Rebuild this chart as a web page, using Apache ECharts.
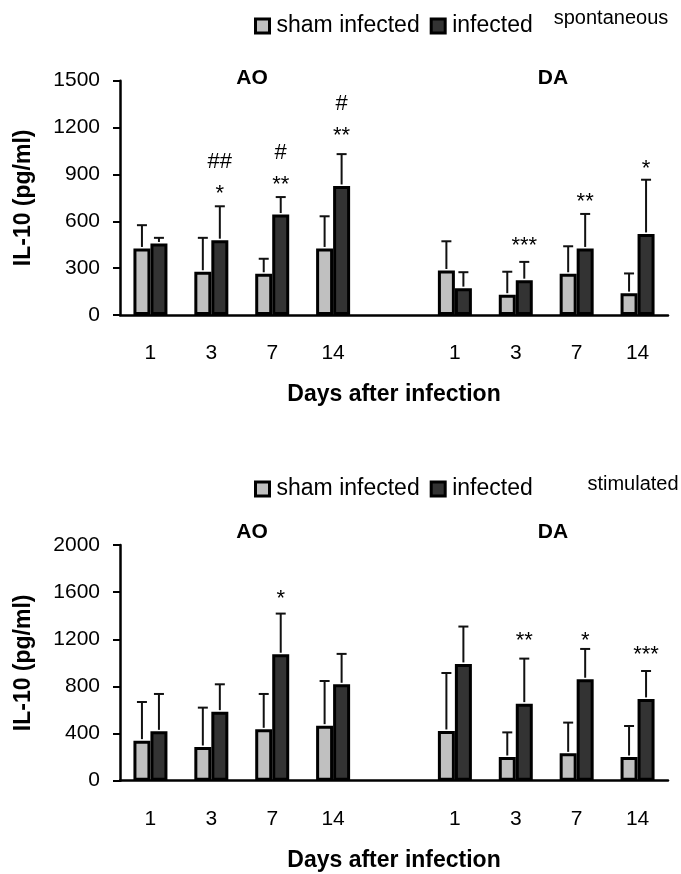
<!DOCTYPE html>
<html><head><meta charset="utf-8">
<script src="https://cdn.jsdelivr.net/npm/echarts@6/dist/echarts.min.js"></script>
<style>html,body{margin:0;padding:0;background:#fff}#c{width:681px;height:874px}</style>
</head><body><div id="c"></div>
<script>
// ---- data ----
const categories = ['1', '3', '7', '14', '', '1', '3', '7', '14'];
const groupLabels = ['AO', 'DA'];
const seriesNames = ['sham infected', 'infected'];
const panelNames = ['spontaneous', 'stimulated'];
const yAxisName = 'IL-10 (pg/ml)';
const xAxisName = 'Days after infection';

// spontaneous panel
const spShamMean = [426, 277, 264, 426, null, 285, 130, 264, 140];
const spShamErr  = [575, 494, 360, 632, null, 472, 277, 440, 266];
const spInfMean  = [458, 479, 643, 826, null, 172, 223, 426, 519];
const spInfErr   = [494, 696, 755, 1030, null, 274, 340, 647, 866];
const spStars     = ['', '*', '**', '**', '', '', '***', '**', '*'];
const spStarLevel = [null, 806, 866, 1179, null, null, 470, 755, 966];
const spHash      = ['', '##', '#', '#', '', '', '', '', ''];
const spHashLevel = [null, 977, 1036, 1349, null, null, null, null, null];
const spTicks = [0, 300, 600, 900, 1200, 1500];

// stimulated panel
const stShamMean = [340, 286, 436, 467, null, 422, 201, 232, 201];
const stShamErr  = [668, 620, 736, 846, null, 914, 410, 493, 464];
const stInfMean  = [419, 586, 1073, 818, null, 991, 654, 861, 694];
const stInfErr   = [736, 818, 1418, 1076, null, 1308, 1036, 1118, 931];
const stStars     = ['', '', '*', '', '', '', '**', '*', '***'];
const stStarLevel = [null, null, 1585, null, null, null, 1223, 1223, 1104];
const stTicks = [0, 400, 800, 1200, 1600, 2000];

// ---- styling ----
const FONT = '"Liberation Sans", Arial, sans-serif';
const SHAM = '#c0c0c0', INF = '#333333';
const BARW = 17;

const chart = echarts.init(document.getElementById('c'), null, {renderer: 'canvas'});

function barSeries(name, data, color, gi) {
  return {
    type: 'bar', name: name, xAxisIndex: gi, yAxisIndex: gi,
    data: data.map(v => v == null ? '-' : v),
    barWidth: BARW, barGap: '0%',
    itemStyle: {color: color, borderColor: '#000', borderWidth: 3},
    emphasis: {disabled: true}, silent: true, z: 2
  };
}
function errSeries(mean, top, side, gi) {
  const rows = [];
  mean.forEach((m, i) => { if (m != null) rows.push([i, m, top[i]]); });
  return {
    type: 'custom', xAxisIndex: gi, yAxisIndex: gi, silent: true, z: 3,
    data: rows,
    renderItem: function (params, api) {
      const i = api.value(0);
      const p0 = api.coord([i, api.value(1)]);
      const p1 = api.coord([i, api.value(2)]);
      const x = p0[0] + side * BARW / 2;
      return {type: 'group', children: [
        {type: 'line', shape: {x1: x, y1: p0[1] - 1.5, x2: x, y2: p1[1]}, style: {stroke: '#111', lineWidth: 2}},
        {type: 'line', shape: {x1: x - 5, y1: p1[1], x2: x + 5, y2: p1[1]}, style: {stroke: '#111', lineWidth: 2}}
      ]};
    }
  };
}
function annotSeries(texts, levels, gi, isStar) {
  const rows = [], labels = [];
  texts.forEach((t, i) => { if (t) { rows.push([i, levels[i]]); labels.push(t); } });
  const fs = 22;
  return {
    type: 'custom', xAxisIndex: gi, yAxisIndex: gi, silent: true, z: 4,
    data: rows,
    renderItem: function (params, api) {
      const p = api.coord([api.value(0), api.value(1)]);
      const t = labels[params.dataIndex];
      return {type: 'text', x: p[0] + BARW / 2, y: p[1] + (isStar ? fs * 0.22 : 0),
        style: {text: t, fill: '#000', font: fs + 'px ' + FONT,
          align: 'center', verticalAlign: 'middle', textAlign: 'center', textVerticalAlign: 'middle'}};
    }
  };
}

const grids = [
  {left: 120, top: 80.7, width: 548, height: 234.3},
  {left: 120, top: 545, width: 548, height: 235.7}
];
const ticks = [spTicks, stTicks];

const xAxes = grids.map((g, gi) => ({
  type: 'category', gridIndex: gi, data: categories, boundaryGap: true,
  axisLine: {show: true, lineStyle: {color: '#000', width: 2.5}},
  axisTick: {show: false},
  axisLabel: {color: '#000', fontSize: 21, fontFamily: FONT, margin: 28, interval: 0},
  splitLine: {show: false},
  name: xAxisName, nameLocation: 'middle', nameGap: 68,
  nameTextStyle: {color: '#000', fontSize: 23, fontWeight: 'bold', fontFamily: FONT}
}));
const yAxes = grids.map((g, gi) => ({
  type: 'value', gridIndex: gi, min: ticks[gi][0], max: ticks[gi][ticks[gi].length - 1],
  interval: ticks[gi][1] - ticks[gi][0],
  axisLine: {show: true, lineStyle: {color: '#000', width: 2.5}},
  axisTick: {show: true, inside: false, length: 7, lineStyle: {color: '#000', width: 2}},
  axisLabel: {color: '#000', fontSize: 21, fontFamily: FONT, margin: 20, formatter: v => String(v)},
  splitLine: {show: false},
  name: yAxisName, nameLocation: 'middle', nameGap: 85,
  nameTextStyle: {color: '#000', fontSize: 23, fontWeight: 'bold', fontFamily: FONT}
}));

const legends = [14.5, 477.5].map(top => ({
  data: seriesNames, left: 254, top: top, orient: 'horizontal',
  itemWidth: 14, itemHeight: 14, itemGap: 10, padding: 0, icon: 'rect',
  itemStyle: {borderColor: '#000', borderWidth: 3},
  textStyle: {color: '#000', fontSize: 23, fontFamily: FONT, padding: [0, 0, 0, 2]},
  selectedMode: false
}));

const graphics = [];
const titleY = [78, 532];
const titleX = [252, 553];
titleY.forEach(y => groupLabels.forEach((g, k) => graphics.push({
  type: 'text', x: titleX[k], y: y,
  style: {text: g, font: 'bold 21px ' + FONT, fill: '#000', align: 'center', verticalAlign: 'middle',
    textAlign: 'center', textVerticalAlign: 'middle'}
})));
graphics.push({type: 'text', x: 611, y: 18, style: {text: panelNames[0], font: '20px ' + FONT, fill: '#000',
  align: 'center', verticalAlign: 'middle', textAlign: 'center', textVerticalAlign: 'middle'}});
graphics.push({type: 'text', x: 633, y: 484, style: {text: panelNames[1], font: '20px ' + FONT, fill: '#000',
  align: 'center', verticalAlign: 'middle', textAlign: 'center', textVerticalAlign: 'middle'}});

chart.setOption({
  animation: false,
  backgroundColor: '#fff',
  textStyle: {fontFamily: FONT},
  grid: grids,
  xAxis: xAxes,
  yAxis: yAxes,
  legend: legends,
  graphic: graphics,
  series: [
    barSeries(seriesNames[0], spShamMean, SHAM, 0),
    barSeries(seriesNames[1], spInfMean, INF, 0),
    errSeries(spShamMean, spShamErr, -1, 0),
    errSeries(spInfMean, spInfErr, 1, 0),
    annotSeries(spStars, spStarLevel, 0, true),
    annotSeries(spHash, spHashLevel, 0, false),
    barSeries(seriesNames[0], stShamMean, SHAM, 1),
    barSeries(seriesNames[1], stInfMean, INF, 1),
    errSeries(stShamMean, stShamErr, -1, 1),
    errSeries(stInfMean, stInfErr, 1, 1),
    annotSeries(stStars, stStarLevel, 1, true)
  ]
});
</script></body></html>
